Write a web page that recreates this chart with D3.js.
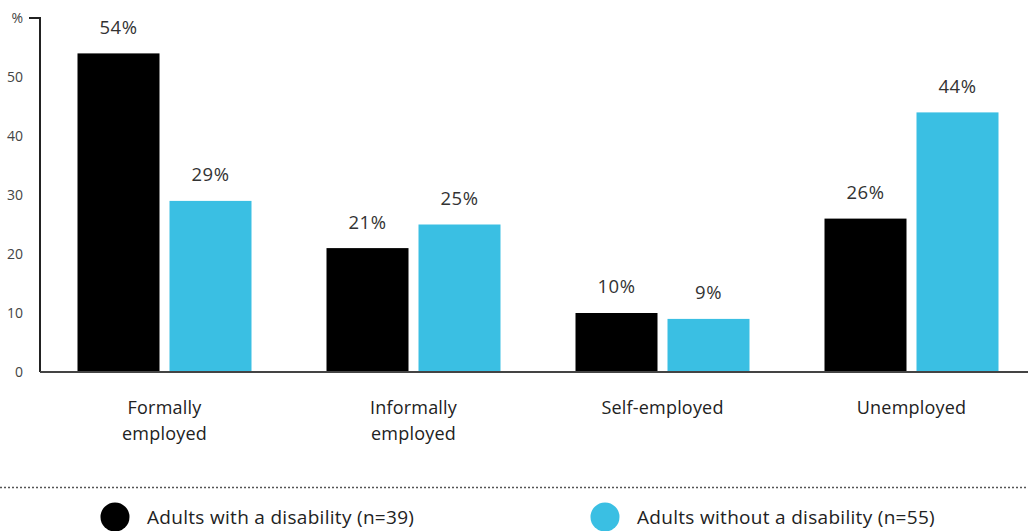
<!DOCTYPE html>
<html>
<head>
<meta charset="utf-8">
<script src="https://cdn.jsdelivr.net/npm/d3@7"></script>
<style>
  html, body { margin: 0; padding: 0; background: #fff; }
  svg { display: block; font-family: "Open Sans", "Noto Sans", sans-serif; }
</style>
</head>
<body>
<svg id="chart" width="1028" height="531"></svg>
<script>
// Employment status by disability
const categories = [["Formally", "employed"], ["Informally", "employed"], ["Self-employed"], ["Unemployed"]];
const seriesNames = ["Adults with a disability (n=39)", "Adults without a disability (n=55)"];
const withDisability = [54, 21, 10, 26];
const withoutDisability = [29, 25, 9, 44];
const yTicks = [0, 10, 20, 30, 40, 50];
const yUnit = "%";

const colors = ["#000000", "#3abfe3"];
const series = [withDisability, withoutDisability];

const svg = d3.select("#chart");
const W = 1028;

const x0 = d3.scaleBand()
  .domain(d3.range(categories.length))
  .range([40, 1036])
  .padding(0);

const groupWidth = 174;
const x1 = d3.scaleBand()
  .domain(d3.range(series.length))
  .range([0, groupWidth])
  .paddingInner(0.1087)
  .paddingOuter(0);

const y = d3.scaleLinear().domain([0, 60]).range([372, 18]);

// bars
const groups = svg.append("g").selectAll("g")
  .data(categories.map((c, i) => i))
  .join("g")
  .attr("transform", i => `translate(${x0(i) + (x0.bandwidth() - groupWidth) / 2},0)`);

groups.selectAll("rect")
  .data(i => series.map((s, k) => ({ k, v: s[i] })))
  .join("rect")
  .attr("x", d => x1(d.k))
  .attr("width", x1.bandwidth())
  .attr("y", d => y(d.v))
  .attr("height", d => y(0) - y(d.v))
  .attr("fill", d => colors[d.k]);

groups.selectAll("text.val")
  .data(i => series.map((s, k) => ({ k, v: s[i] })))
  .join("text")
  .attr("class", "val")
  .attr("x", d => x1(d.k) + x1.bandwidth() / 2)
  .attr("y", d => y(d.v) - 26)
  .attr("dy", "0.35em")
  .attr("text-anchor", "middle")
  .attr("font-size", 18.5)
  .attr("letter-spacing", 0.5)
  .attr("fill", "#333")
  .text(d => d.v + "%");

// y axis
const yAxis = d3.axisLeft(y).tickValues(yTicks).tickSize(0).tickPadding(17);
const gy = svg.append("g").attr("transform", "translate(40,0)").call(yAxis);
gy.select(".domain").remove();
gy.selectAll("text").attr("font-size", 14).attr("fill", "#444").attr("font-family", "Open Sans, sans-serif");
svg.append("line").attr("x1", 40).attr("x2", 40).attr("y1", y(60)).attr("y2", y(0))
  .attr("stroke", "#222").attr("stroke-width", 2);
svg.append("line").attr("x1", 29).attr("x2", 41).attr("y1", y(60)).attr("y2", y(60))
  .attr("stroke", "#222").attr("stroke-width", 2);
svg.append("text").attr("x", 23).attr("y", y(60)).attr("dy", "0.35em")
  .attr("text-anchor", "end").attr("font-size", 14).attr("fill", "#444").text(yUnit);

// x axis baseline
svg.append("line").attr("x1", 40).attr("x2", W).attr("y1", y(0)).attr("y2", y(0))
  .attr("stroke", "#444").attr("stroke-width", 2);

// category labels
const xl = svg.append("g").selectAll("text")
  .data(categories)
  .join("text")
  .attr("text-anchor", "middle")
  .attr("font-size", 18)
  .attr("letter-spacing", 0.2)
  .attr("fill", "#222")
  .attr("transform", (d, i) => `translate(${x0(i) + x0.bandwidth() / 2},408)`);
xl.selectAll("tspan")
  .data(d => d)
  .join("tspan")
  .attr("x", 0)
  .attr("y", (d, j) => j * 26)
  .attr("dy", "0.35em")
  .text(d => d);

// dotted separator
svg.append("line").attr("x1", 0).attr("x2", W).attr("y1", 487.5).attr("y2", 487.5)
  .attr("stroke", "#555").attr("stroke-width", 1.5).attr("stroke-dasharray", "2,2");

// legend
const legendX = [115, 605];
const leg = svg.append("g").selectAll("g")
  .data(seriesNames)
  .join("g")
  .attr("transform", (d, i) => `translate(${legendX[i]},517)`);
leg.append("circle").attr("r", 14.5).attr("fill", (d, i) => colors[i]);
leg.append("text").attr("x", 32).attr("dy", "0.35em")
  .attr("font-size", 19).attr("letter-spacing", 0.3).attr("fill", "#222").text(d => d);
</script>
</body>
</html>
